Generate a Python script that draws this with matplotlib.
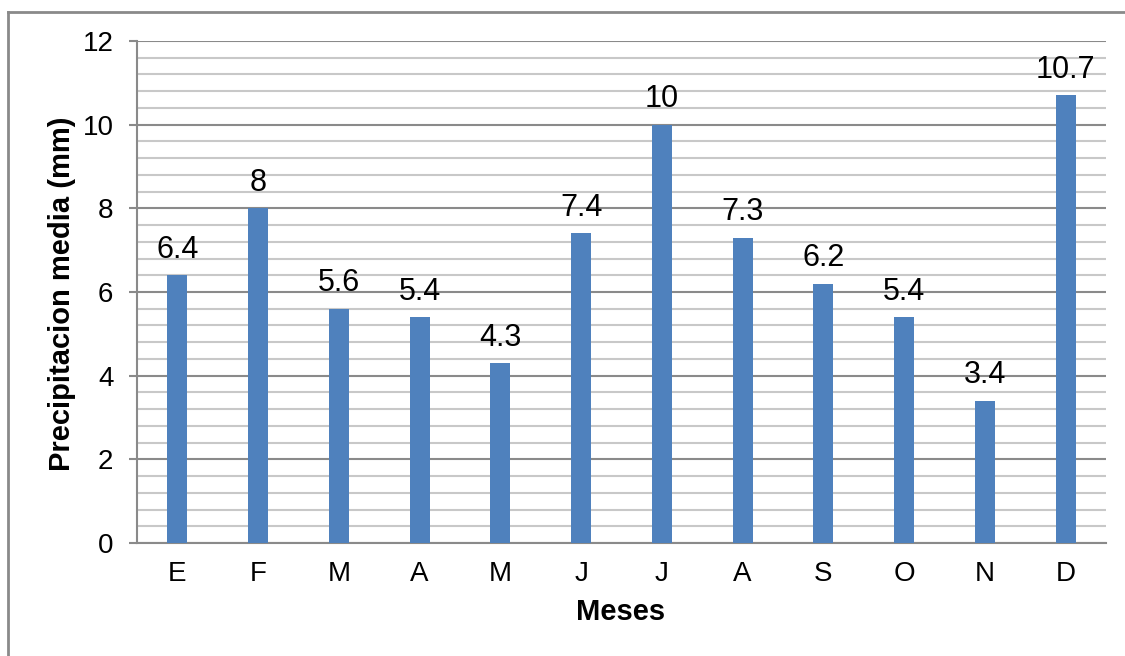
import matplotlib
matplotlib.use("Agg")
import matplotlib.pyplot as plt
from matplotlib.ticker import MultipleLocator
from matplotlib.lines import Line2D

plt.rcParams['font.family'] = ['Liberation Sans', 'DejaVu Sans']

months = ["E", "F", "M", "A", "M", "J", "J", "A", "S", "O", "N", "D"]
precip = [6.4, 8, 5.6, 5.4, 4.3, 7.4, 10, 7.3, 6.2, 5.4, 3.4, 10.7]
value_labels = ["6.4", "8", "5.6", "5.4", "4.3", "7.4", "10", "7.3", "6.2", "5.4", "3.4", "10.7"]

fig = plt.figure(figsize=(11.25, 6.56), dpi=100)
ax = fig.add_axes([137/1125, 1 - 543/656, (1106 - 137)/1125, (543 - 41)/656])

x = list(range(len(months)))
bars = ax.bar(x, precip, width=0.25, color="#4F81BD", zorder=3)

for xi, v, lab in zip(x, precip, value_labels):
    ax.annotate(lab, (xi, v), xytext=(0, 12.5), textcoords="offset points",
                ha="center", va="baseline", fontsize=22, color="black")

ax.set_xlim(-0.5, len(months) - 0.5)
ax.set_ylim(0, 12)
ax.yaxis.set_major_locator(MultipleLocator(2))
ax.yaxis.set_minor_locator(MultipleLocator(0.4))
ax.set_xticks(x)
ax.set_xticklabels(months)

ax.grid(which="major", axis="y", color="#8a8a8a", linewidth=1.5, zorder=1)
ax.grid(which="minor", axis="y", color="#c8c8c8", linewidth=1.5, zorder=1)
ax.set_axisbelow(True)

for side in ("top", "right"):
    ax.spines[side].set_visible(False)
for side in ("left", "bottom"):
    ax.spines[side].set_color("#8a8a8a")
    ax.spines[side].set_linewidth(1.5)

ax.tick_params(axis="y", which="major", length=6, width=1.5, color="#8a8a8a",
               pad=11, labelsize=20)
ax.tick_params(axis="y", which="minor", length=0)
ax.tick_params(axis="x", length=0, pad=13, labelsize=20)

fig.text(62/1125, 1 - 294/656, "Precipitacion media (mm)", rotation=90,
         ha="center", va="center", fontsize=21, fontweight="bold")
fig.text(621/1125, 1 - 612/656, "Meses", ha="center", va="center",
         fontsize=21, fontweight="bold")

# outer frame: top and left edges only
fig.add_artist(Line2D([8/1125, 1.0], [1 - 12/656, 1 - 12/656],
                      transform=fig.transFigure, color="#8a8a8a", linewidth=2))
fig.add_artist(Line2D([8/1125, 8/1125], [0.0, 1 - 12/656],
                      transform=fig.transFigure, color="#8a8a8a", linewidth=2))

fig.savefig("out.png", dpi=100)
